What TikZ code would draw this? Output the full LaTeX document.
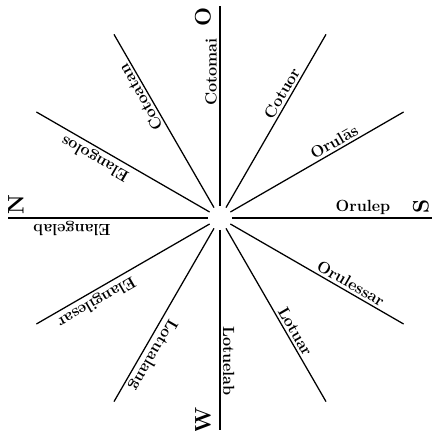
\documentclass[tikz,border=0pt]{standalone}
\usepackage{tikz}
\usetikzlibrary{arrows.meta}

\tikzset{
  ray/.style={line width=0.9pt},
  strich/.style={font=\fontsize{11.5}{13}\selectfont\bfseries, inner sep=2pt},
  himmel/.style={font=\fontsize{16}{18}\selectfont\bfseries, inner sep=0pt, rotate=90},
}

\begin{document}
\begin{tikzpicture}[x=0.025cm,y=0.025cm]
  \useasboundingbox (-220,-213) rectangle (214,218);
  \coordinate (m) at (0,0);
  % the twelve rays with their names
  \foreach \w/\r/\name in {0/143/Orulep, 30/137/Orulās, 60/139/Cotuor,
      90/146/Cotomai, 120/144/Cotoatan, 150/138/Elangolos,
      180/148/Elangelab, 210/149/Elangilesar, 240/152/Lotualang,
      270/143/Lotuelab, 300/136/Lotuar, 330/146/Orulessar}{
    \draw[ray] (\w:12) -- (\w:212);
    \node[strich, rotate=\w, anchor=south] (l\w) at (\w:\r) {\name};
  }
  % cardinal points
  \node[himmel] (o) at (-17,201) {O};
  \node[himmel] (s) at (201,12) {S};
  \node[himmel] (w) at (-17,-202) {W};
  \node[himmel] (n) at (-204,13) {N};
\end{tikzpicture}
\end{document}
